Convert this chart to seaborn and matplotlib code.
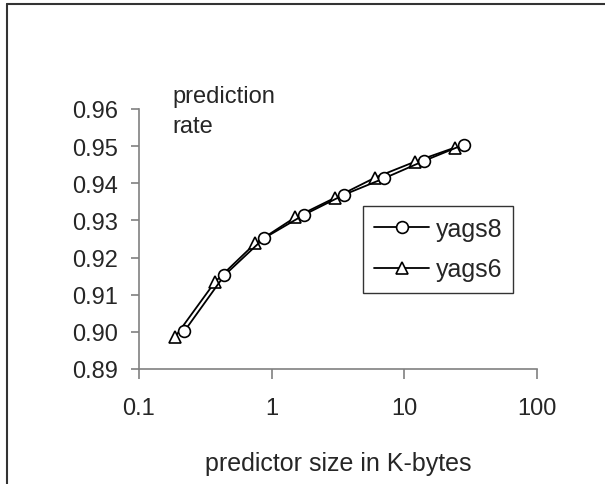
import matplotlib
matplotlib.use("Agg")
import matplotlib.pyplot as plt
from matplotlib.lines import Line2D
from matplotlib.ticker import FixedLocator, FixedFormatter, NullLocator
import pandas as pd
import seaborn as sns

# predictor size (K-bytes) and prediction rate
size_yags8 = [0.22, 0.44, 0.875, 1.75, 3.5, 7, 14, 28]
rate_yags8 = [0.9002, 0.9152, 0.9252, 0.9315, 0.9369, 0.9413, 0.9460, 0.9504]
size_yags6 = [0.1875, 0.375, 0.75, 1.5, 3, 6, 12, 24]
rate_yags6 = [0.8987, 0.9135, 0.9238, 0.9308, 0.9361, 0.9415, 0.9458, 0.9496]

x_ticks = [0.1, 1, 10, 100]
x_tick_labels = ["0.1", "1", "10", "100"]
y_ticks = [0.89, 0.90, 0.91, 0.92, 0.93, 0.94, 0.95, 0.96]

sns.set_style("white")
plt.rcParams['font.family'] = ['Liberation Sans', 'DejaVu Sans']

df8 = pd.DataFrame({'size': size_yags8, 'rate': rate_yags8})
df6 = pd.DataFrame({'size': size_yags6, 'rate': rate_yags6})

fig = plt.figure(figsize=(6.05, 4.85), dpi=100)
ax = fig.add_axes([139 / 605, 1 - 370 / 485, 398 / 605, 260 / 485])
ax.set_xscale('log')

sns.lineplot(data=df8, x='size', y='rate', ax=ax, color='black', lw=1.3,
             marker='o', markersize=8.5, markerfacecolor='white',
             markeredgecolor='black', markeredgewidth=1.2, zorder=3,
             label='yags8')
sns.lineplot(data=df6, x='size', y='rate', ax=ax, color='black', lw=1.3,
             marker='^', markersize=8.5, markerfacecolor='white',
             markeredgecolor='black', markeredgewidth=1.2, zorder=2,
             label='yags6')

ax.set_xlim(0.1, 100)
ax.set_ylim(0.89, 0.96)
ax.xaxis.set_major_locator(FixedLocator(x_ticks))
ax.xaxis.set_major_formatter(FixedFormatter(x_tick_labels))
ax.xaxis.set_minor_locator(NullLocator())
ax.set_yticks(y_ticks)
ax.set_yticklabels(["%.2f" % v for v in y_ticks])

sns.despine(ax=ax)
for s in ['left', 'bottom']:
    ax.spines[s].set_color('#808080')
    ax.spines[s].set_linewidth(1.2)
ax.tick_params(axis='y', direction='out', length=5.8, width=1.2,
               color='#808080', labelsize=17, pad=9, left=True)
ax.tick_params(axis='x', direction='out', length=7.2, width=1.2,
               color='#808080', labelsize=17, pad=13, bottom=True)

ax.set_xlabel('predictor size in K-bytes', fontsize=18)
ax.xaxis.set_label_coords(0.5, -0.315)
ax.set_ylabel('')

# y-axis title, two lines above the plot
fig.text(172 / 605, 1 - 103 / 485, 'prediction', fontsize=17,
         va='baseline', ha='left')
fig.text(172 / 605, 1 - 133 / 485, 'rate', fontsize=17,
         va='baseline', ha='left')

leg = ax.legend(loc='upper left', bbox_to_anchor=(0.563, 0.627),
                borderaxespad=0, fontsize=18, frameon=True, fancybox=False,
                handlelength=2.2, handletextpad=0.25, labelspacing=0.65,
                borderpad=0.45, edgecolor='black')
leg.get_frame().set_linewidth(1.0)

# outer frame (top and left edges only)
fig.add_artist(Line2D([7 / 605, 1.0], [1 - 5 / 485, 1 - 5 / 485],
                      color='#333333', lw=1.5, transform=fig.transFigure))
fig.add_artist(Line2D([7 / 605, 7 / 605], [0.0, 1 - 5 / 485],
                      color='#333333', lw=1.5, transform=fig.transFigure))

fig.savefig('out.png', dpi=100)
